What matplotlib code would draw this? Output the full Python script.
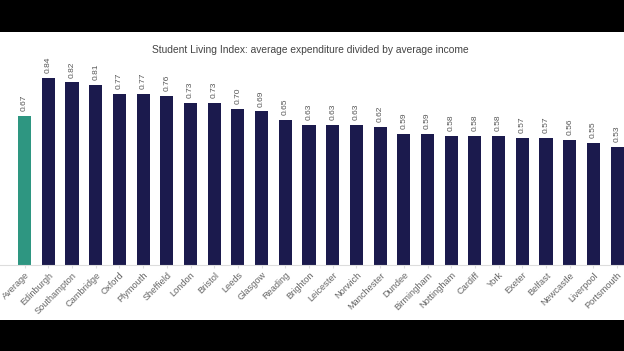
#student living index bar chart
import matplotlib
matplotlib.use("Agg")
import matplotlib.pyplot as plt

plt.rcParams['font.family'] = ['Liberation Sans', 'DejaVu Sans']

cities = ['Average', 'Edinburgh', 'Southampton', 'Cambridge', 'Oxford', 'Plymouth',
          'Sheffield', 'London', 'Bristol', 'Leeds', 'Glasgow', 'Reading', 'Brighton',
          'Leicester', 'Norwich', 'Manchester', 'Dundee', 'Birmingham', 'Nottingham',
          'Cardiff', 'York', 'Exeter', 'Belfast', 'Newcastle', 'Liverpool', 'Portsmouth']
index = [0.67, 0.84, 0.82, 0.81, 0.77, 0.77, 0.76, 0.73, 0.73, 0.70, 0.69, 0.65, 0.63,
         0.63, 0.63, 0.62, 0.59, 0.59, 0.58, 0.58, 0.58, 0.57, 0.57, 0.56, 0.55, 0.53]
title = 'Student Living Index: average expenditure divided by average income'

W, H = 624, 351
fig = plt.figure(figsize=(W/100, H/100), dpi=100)
fig.patch.set_facecolor('black')
# white picture area between the black letterbox bands
bg = fig.add_axes([0, (H-320)/H, 1, (320-32)/H], zorder=-1)
bg.set_facecolor('white')
bg.set_xticks([]); bg.set_yticks([])
for s in bg.spines.values():
    s.set_visible(False)

pitch = 23.7
x0 = 24.6
ax = fig.add_axes([0, (H-265)/H, 1, 222.6/H])
ax.set_xlim(-x0/pitch, (W-x0)/pitch)
ax.set_ylim(0, 1)
ax.patch.set_alpha(0)

colors = ['#2e9681'] + ['#1b1a4d']*(len(cities)-1)
xs = range(len(cities))
ax.bar(xs, index, width=0.55, color=colors)

for x, v in zip(xs, index):
    ax.annotate('%.2f' % v, (x, v), xytext=(0, 3.5), textcoords='offset points',
                rotation=90, ha='center', va='bottom', fontsize=6, color='#555555')

ax.set_xticks(list(xs))
ax.set_xticklabels(cities, rotation=45, ha='right', rotation_mode='anchor',
                   fontsize=6.7, color='#666666')
ax.tick_params(axis='x', length=2, color='#dddddd', pad=2)
ax.set_yticks([])
for s in ['top', 'right', 'left']:
    ax.spines[s].set_visible(False)
ax.spines['bottom'].set_color('#dddddd')
ax.spines['bottom'].set_linewidth(0.8)

fig.text(310/W, (H-50)/H, title, ha='center', va='center', fontsize=7.4, color='#444444')

fig.savefig('out.png', dpi=100, facecolor=fig.get_facecolor())
